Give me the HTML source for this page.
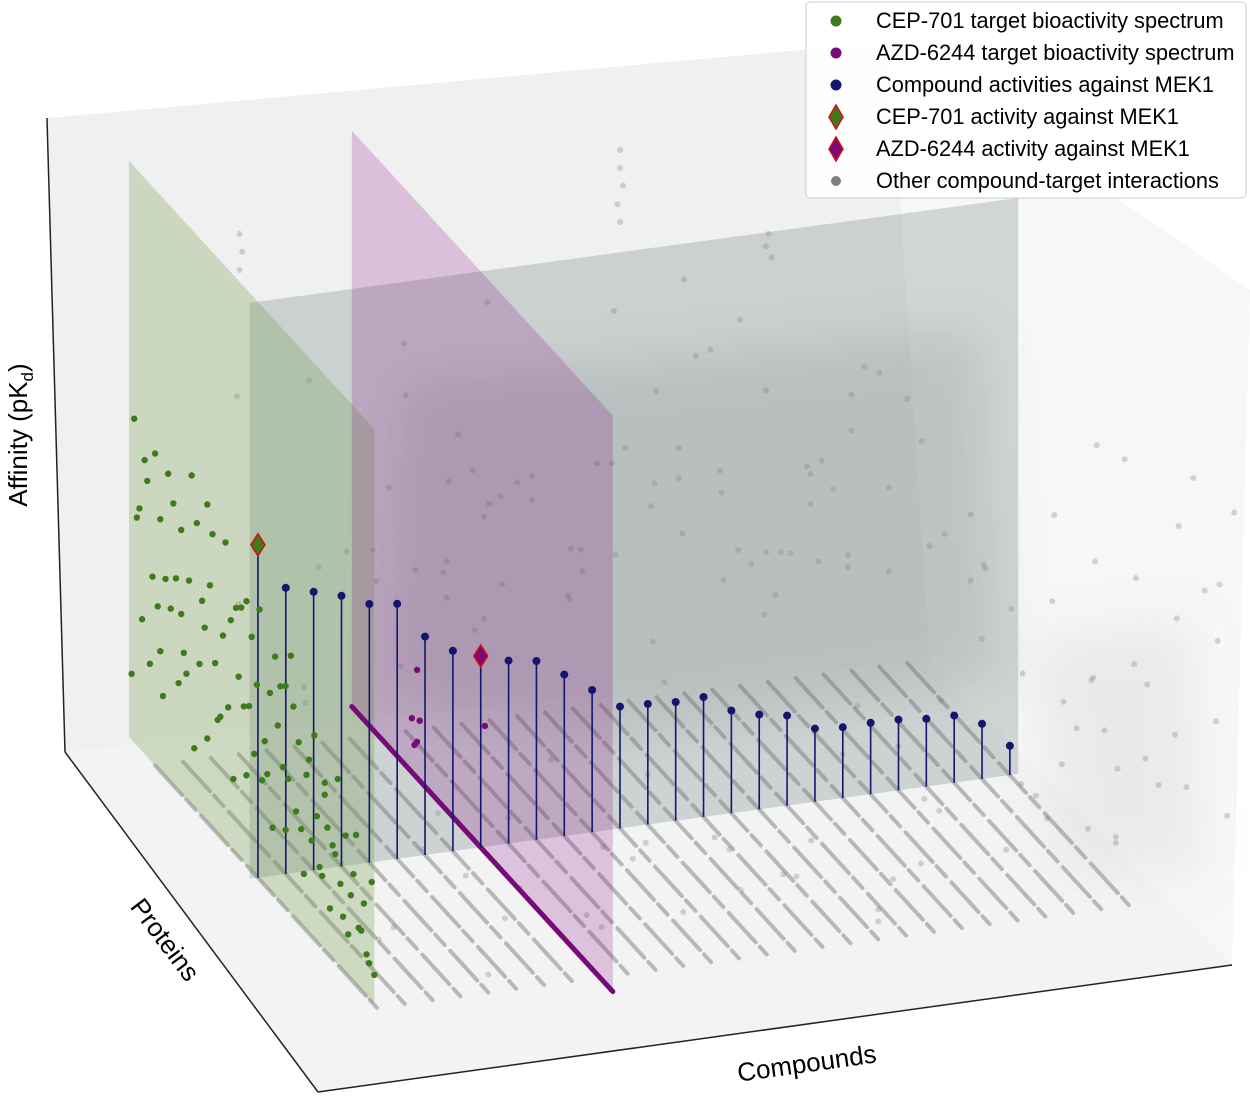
<!DOCTYPE html>
<html><head><meta charset="utf-8"><style>
html,body{margin:0;padding:0;background:#fff;}
svg{display:block;font-family:"Liberation Sans",Arial,sans-serif;}
</style></head><body>
<svg id="chart" width="1250" height="1097" viewBox="0 0 1250 1097" xmlns="http://www.w3.org/2000/svg">
<defs>
<filter id="blur" x="-20%" y="-20%" width="140%" height="140%"><feGaussianBlur stdDeviation="25"/></filter>
</defs>
<g>
<polygon points="48,118 890,42 930,660 65,752" fill="#f0f0f0"/>
<polygon points="890,42 1250,290 1232,965 930,660" fill="#f7f7f7"/>
<polygon points="65,752 930,660 1232,965 318,1092" fill="#f3f3f3"/>
</g>
<g filter="url(#blur)">
<polygon points="400,380 980,330 1000,680 620,740 380,700" fill="#7a7a7a" fill-opacity="0.22"/>
<polygon points="1030,640 1190,620 1200,880 1060,860" fill="#8a8a8a" fill-opacity="0.12"/>
</g>
<g id="layer"></g>
<g>
<line x1="47" y1="118" x2="65" y2="752" stroke="#222" stroke-width="1.5"/>
<line x1="65" y1="752" x2="318" y2="1092" stroke="#222" stroke-width="1.5"/>
<line x1="318" y1="1092" x2="1232" y2="965" stroke="#222" stroke-width="1.5"/>
<text transform="translate(27,435) rotate(-90)" text-anchor="middle" font-size="26" fill="#000">Affinity (pK<tspan font-size="17" dy="6">d</tspan><tspan dy="-6">)</tspan></text>
<text transform="translate(158,945) rotate(53)" text-anchor="middle" font-size="26" fill="#000">Proteins</text>
<text transform="translate(808,1072) rotate(-8)" text-anchor="middle" font-size="26" fill="#000">Compounds</text>
</g>
<g>
<rect x="806" y="2" width="440" height="196" rx="4" fill="#fff" fill-opacity="0.9" stroke="#ccc"/>
<circle cx="836" cy="21" r="5.5" fill="#3f7a1c"/>
<text x="876" y="28" font-size="21.8">CEP-701 target bioactivity spectrum</text>
<circle cx="836" cy="53" r="5.5" fill="#7a0a7a"/>
<text x="876" y="60" font-size="21.8">AZD-6244 target bioactivity spectrum</text>
<circle cx="836" cy="85" r="5.5" fill="#14166e"/>
<text x="876" y="92" font-size="21.8">Compound activities against MEK1</text>
<polygon points="836,105 843,117 836,129 829,117" fill="#3f7a1c" stroke="#d01010" stroke-width="1.5"/>
<text x="876" y="124" font-size="21.8">CEP-701 activity against MEK1</text>
<polygon points="836,137 843,149 836,161 829,149" fill="#7a0a7a" stroke="#d01010" stroke-width="1.5"/>
<text x="876" y="156" font-size="21.8">AZD-6244 activity against MEK1</text>
<circle cx="836" cy="181" r="5" fill="#808080"/>
<text x="876" y="188" font-size="21.8">Other compound-target interactions</text>
</g>
</svg>
<script>
// ---- data ----
const stemAffinity = [9.55,8.77,8.64,8.51,8.31,8.25,7.64,7.34,7.19,7.05,6.98,6.69,6.37,6.03,6.01,5.98,6.0,5.71,5.58,5.5,5.22,5.18,5.19,5.18,5.13,5.12,4.92,4.49];
const cepIndex = 0;
const azdIndex = 8;
const mek1Protein = 0.494;
const greenP = [0.01,0.03,0.05,0.06,0.08,0.09,0.11,0.12,0.13,0.15,0.16,0.18,0.19,0.2,0.22,0.23,0.25,0.26,0.27,0.29,0.3,0.31,0.33,0.34,0.36,0.37,0.38,0.4,0.41,0.42,0.44,0.45,0.47,0.48,0.5,0.51,0.52,0.54,0.55,0.57,0.58,0.6,0.61,0.62,0.64,0.65,0.67,0.68,0.7,0.71,0.72,0.74,0.75,0.77,0.78,0.8,0.81,0.83,0.84,0.86,0.87,0.89,0.9,0.92,0.93,0.02,0.07,0.1,0.14,0.17,0.21,0.24,0.28,0.32,0.35,0.39,0.43,0.46,0.49,0.53,0.56,0.59,0.63,0.66,0.69,0.73,0.76,0.79,0.82,0.85,0.88,0.91,0.94,0.04,0.12,0.2,0.3,0.45,0.6,0.75];
const greenA = [5.1,7.8,6.2,8.9,5.6,7.1,6.7,8.2,5.3,9.1,6.9,7.5,5.8,8.4,6.1,7.7,5.0,8.8,6.5,7.2,5.4,8.0,6.8,5.9,7.4,9.0,6.3,5.2,8.1,7.0,6.6,5.5,7.9,6.0,8.5,5.7,6.4,7.3,5.1,6.9,7.6,5.3,6.2,8.3,5.8,7.0,4.9,6.6,5.6,7.4,6.1,5.2,6.8,4.8,5.9,7.1,5.4,6.3,4.7,5.8,6.5,5.0,5.5,4.6,6.0,9.4,8.6,9.2,7.3,8.7,6.4,9.5,7.6,8.9,6.0,7.8,8.2,6.7,7.2,5.9,8.0,6.3,7.5,5.6,6.9,5.3,6.1,5.8,4.9,5.4,5.0,4.7,4.5,8.0,6.0,7.0,9.3,8.4,7.7,6.6];
const purpleP = [0.24,0.25,0.23,0.26,0.25,0.51];
const purpleA = [4.5,4.6,4.9,5.0,5.8,6.1];
const grayC = [3,5,7,9,11,13,15,17,19,21,23,25,27,4,6,8,10,12,14,16,18,20,22,24,26,2,5,9,13,17,21,25,3,7,11,15,19,23,27,6,10,14,18,22,26,4,8,12,16,20,24,28,9,12,15,18,21,24,11,14,17,20,23,13,16,19,22,10,15,20,25,12,18,24,7,14,21,26,9,16,
 25,27,29,31,33,26,28,30,32,34,25,27,29,31,33,26,28,30,32,34,27,29,31,28,30,32,26,33,25,35,27,31,29,33,28,30,32,26,34,35,
 2,4,6,8,10,12,14,16,18,20,22,24,26,3,5,7,9,11,13,15,17,19,21,23,25,1,4,8,12,16,20,24,6,10,14,18,22,26,2,27,
 16.7,16.7,16.8,16.6,16.7,3.5,3.6,3.5,22.5,22.4,22.6,11,19];
const grayP = [0.1,0.3,0.2,0.4,0.15,0.35,0.25,0.05,0.45,0.2,0.3,0.1,0.4,0.25,0.05,0.35,0.15,0.45,0.2,0.3,0.1,0.4,0.25,0.05,0.35,0.2,0.4,0.1,0.3,0.2,0.4,0.15,0.35,0.25,0.05,0.45,0.2,0.3,0.1,0.4,0.25,0.05,0.35,0.15,0.45,0.3,0.2,0.1,0.4,0.25,0.35,0.05,0.3,0.15,0.4,0.2,0.1,0.35,0.25,0.05,0.45,0.3,0.2,0.1,0.4,0.25,0.35,0.15,0.3,0.2,0.1,0.4,0.25,0.05,0.35,0.3,0.2,0.1,0.4,0.15,
 0.4,0.5,0.6,0.7,0.8,0.45,0.55,0.65,0.75,0.85,0.6,0.7,0.8,0.9,0.5,0.65,0.75,0.85,0.4,0.55,0.9,0.45,0.55,0.8,0.7,0.6,0.5,0.65,0.85,0.5,0.75,0.4,0.85,0.6,0.7,0.5,0.9,0.8,0.45,0.7,
 0.6,0.7,0.8,0.9,0.55,0.65,0.75,0.85,0.95,0.6,0.7,0.8,0.9,0.55,0.65,0.75,0.85,0.95,0.6,0.7,0.8,0.9,0.55,0.65,0.75,0.85,0.95,0.6,0.7,0.8,0.9,0.55,0.65,0.75,0.85,0.95,0.6,0.7,0.8,0.9,
 0.1,0.1,0.1,0.1,0.1,0.05,0.05,0.05,0.05,0.05,0.05,0.2,0.1];
const grayA = [6.5,8.2,7.1,9.0,5.8,7.6,8.8,6.2,7.3,9.4,6.8,8.0,7.0,5.5,9.8,7.9,6.4,8.5,7.2,6.0,9.1,7.7,8.3,6.6,7.4,10.5,8.7,9.6,6.9,8.1,7.5,9.3,6.3,8.9,7.8,6.1,10.2,7.0,8.4,6.7,9.0,7.3,8.6,6.4,7.1,8.0,11.0,7.6,9.2,6.8,8.3,7.4,9.9,6.5,8.8,7.2,10.1,6.9,8.5,7.7,9.5,6.2,8.1,7.9,9.7,6.6,8.4,7.0,9.3,6.8,8.6,7.5,10.4,7.1,8.0,9.1,6.7,8.9,7.3,10.8,
 7.5,6.8,6.0,5.4,5.0,8.2,7.1,6.4,5.8,5.2,6.9,6.2,5.6,5.0,7.8,6.5,5.9,5.3,8.5,7.0,4.8,8.0,7.3,5.5,6.3,6.8,7.6,6.6,5.1,7.9,6.0,8.8,5.4,7.2,6.5,7.4,4.9,5.7,8.3,6.1,
 4.6,5.2,4.4,4.8,5.6,4.3,5.0,4.7,4.5,5.3,4.9,4.4,5.1,4.8,5.5,4.6,4.3,4.9,5.4,4.5,5.0,4.7,5.8,4.4,5.2,4.6,4.3,5.0,4.8,4.5,4.9,5.7,4.4,5.1,4.6,4.3,5.3,4.7,4.5,4.9,
 13.2,12.9,12.6,12.3,12.0,12.4,12.1,11.8,11.2,11.0,10.8,11.5,10.9];
const streakCompounds = [0,1,2,3,4,5,6,7,9,10,11,12,13,14,15,16,17,18,19,20,21,22,23,24,25,26,27];
const affinityFloor = 4;
const planeTop = 13.6;

// ---- projection (axis functions) ----
function sx(c,p,a){ return 129 + 27.85*c + 261*p; }
function sy(c,p,a){ return 737 - 3.8*c + 285*p - 60*(a-affinityFloor); }
const NS='http://www.w3.org/2000/svg';
const layer=document.getElementById('layer');
function mk(tag,attrs,parent){const e=document.createElementNS(NS,tag);for(const k in attrs)e.setAttribute(k,attrs[k]);(parent||layer).appendChild(e);return e;}
function pts(arr){return arr.map(q=>sx(q[0],q[1],q[2]).toFixed(1)+','+sy(q[0],q[1],q[2]).toFixed(1)).join(' ');}

const gBack=mk('g',{});


for(let i=0;i<grayC.length;i++){
  if(grayP[i]<mek1Protein){
    const c=mk('circle',{cx:sx(grayC[i],grayP[i],grayA[i]),cy:sy(grayC[i],grayP[i],grayA[i]),r:3,fill:'#8a8a8a','fill-opacity':0.35},gBack);
    
    
  }
}
const mekPlane=mk('polygon',{points:pts([[-0.3,mek1Protein,affinityFloor],[-0.3,mek1Protein,planeTop],[27.3,mek1Protein,planeTop],[27.3,mek1Protein,affinityFloor]]),fill:'rgb(120,140,140)','fill-opacity':0.3});


const gFront=mk('g',{});


for(let i=0;i<grayC.length;i++){
  if(grayP[i]>=mek1Protein){
    const c=mk('circle',{cx:sx(grayC[i],grayP[i],grayA[i]),cy:sy(grayC[i],grayP[i],grayA[i]),r:3,fill:'#8a8a8a','fill-opacity':0.35},gFront);
    
    
  }
}
streakCompounds.forEach(c=>{
  const l=mk('line',{x1:sx(c,0.1,affinityFloor),y1:sy(c,0.1,affinityFloor),x2:sx(c,0.95,affinityFloor),y2:sy(c,0.95,affinityFloor),stroke:'#707070','stroke-opacity':0.45,'stroke-width':4,'stroke-dasharray':'40 6 14 8','stroke-linecap':'round'});
  
  
});
const gp=mk('polygon',{points:pts([[cepIndex,0,affinityFloor],[cepIndex,0,planeTop],[cepIndex,0.94,planeTop],[cepIndex,0.94,affinityFloor]]),fill:'rgb(120,160,80)','fill-opacity':0.3});


const pp=mk('polygon',{points:pts([[azdIndex,0,affinityFloor],[azdIndex,0,planeTop],[azdIndex,1,planeTop],[azdIndex,1,affinityFloor]]),fill:'rgb(128,0,128)','fill-opacity':0.2});


const pl=mk('line',{x1:sx(azdIndex,0,affinityFloor),y1:sy(azdIndex,0,affinityFloor),x2:sx(azdIndex,1,affinityFloor),y2:sy(azdIndex,1,affinityFloor),stroke:'#760a76','stroke-width':5,'stroke-linecap':'round'});


stemAffinity.forEach((a,i)=>{
  const x=sx(i,mek1Protein,a);
  const l=mk('line',{x1:x,y1:sy(i,mek1Protein,affinityFloor),x2:x,y2:sy(i,mek1Protein,a),stroke:'#14166e','stroke-width':1.6});
  
  
  if(i!==cepIndex && i!==azdIndex){
    const c=mk('circle',{cx:x,cy:sy(i,mek1Protein,a),r:4,fill:'#14166e'});
    
    
  }
});
for(let i=0;i<Math.min(greenP.length,greenA.length);i++){
  const c=mk('circle',{cx:sx(cepIndex,greenP[i],greenA[i]),cy:sy(cepIndex,greenP[i],greenA[i]),r:3.2,fill:'#3f7a1c'});
  
  
}
for(let i=0;i<purpleP.length;i++){
  const c=mk('circle',{cx:sx(azdIndex,purpleP[i],purpleA[i]),cy:sy(azdIndex,purpleP[i],purpleA[i]),r:3.2,fill:'#7a0a7a'});
  
  
}
function diamond(i,fill,name){
  const x=sx(i,mek1Protein,stemAffinity[i]), y=sy(i,mek1Protein,stemAffinity[i]);
  const d=mk('polygon',{points:`${x},${y-11} ${x+7},${y} ${x},${y+11} ${x-7},${y}`,fill:fill,stroke:'#d01010','stroke-width':1.5});
  
  
}
diamond(cepIndex,'#3f7a1c','cep701-mek1-diamond');
diamond(azdIndex,'#7a0a7a','azd6244-mek1-diamond');
</script>
</body></html>
